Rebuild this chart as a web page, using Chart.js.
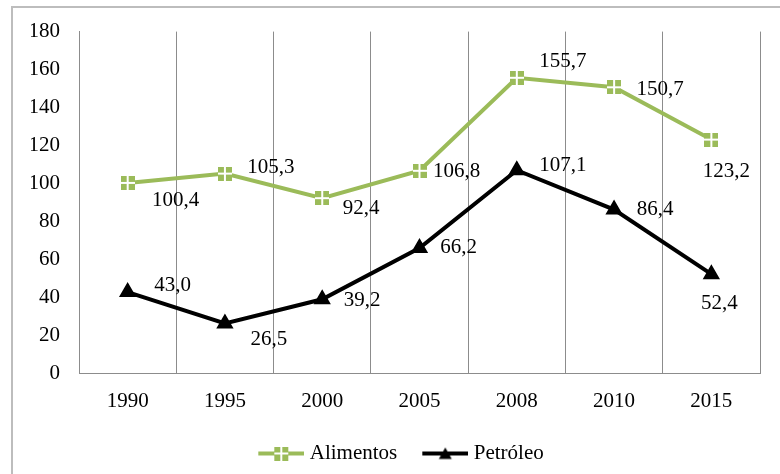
<!DOCTYPE html>
<html>
<head>
<meta charset="utf-8">
<script src="https://cdn.jsdelivr.net/npm/chart.js@4"></script>
<style>
  html, body { margin: 0; padding: 0; background: #fff; }
  #wrap { width: 780px; height: 474px; }
</style>
</head>
<body>
<div id="wrap"><canvas id="precos" width="780" height="474"></canvas></div>
<script>
const years = ['1990', '1995', '2000', '2005', '2008', '2010', '2015']
const alimentos = [100.4, 105.3, 92.4, 106.8, 155.7, 150.7, 123.2]
const petroleo = [43.0, 26.5, 39.2, 66.2, 107.1, 86.4, 52.4]
const yTicks = [0, 20, 40, 60, 80, 100, 120, 140, 160, 180]

// where each value label sits relative to its point (dx, dy)
const alimentosLabelPos = [[48, 18], [46, -6], [39, 10], [37, 1], [46, -16], [46, 2], [15, 32]]
const petroleoLabelPos = [[45, -7], [44, 16], [40, 1], [39, 0], [46, -5], [41, 0], [8, 29]]

const green = '#9bbb59'
const font = 'Liberation Serif'

// green square with white cross, like the excel marker
function squareMarker() {
    const c = document.createElement('canvas')
    c.width = 14; c.height = 14
    const g = c.getContext('2d')
    g.fillStyle = green
    g.fillRect(0, 0, 14, 14)
    g.fillStyle = '#fff'
    g.fillRect(6, 0, 2, 14)
    g.fillRect(0, 6, 14, 2)
    return c
}

// legend icon: line + marker at the right end of a wider transparent canvas
// (the blank left part only makes room between legend items)
function legendIcon(color, drawMarker) {
    const c = document.createElement('canvas')
    c.width = 62; c.height = 14
    const g = c.getContext('2d')
    g.translate(16, 0)
    g.strokeStyle = color
    g.lineWidth = 4
    g.beginPath(); g.moveTo(0, 7); g.lineTo(46, 7); g.stroke()
    drawMarker(g)
    return c
}

const sq = squareMarker()
const iconAlim = legendIcon(green, (g) => g.drawImage(sq, 16, 0))
const iconPetr = legendIcon('#000', (g) => {
    g.fillStyle = '#000'
    g.beginPath(); g.moveTo(23, 1); g.lineTo(29.5, 12.5); g.lineTo(16.5, 12.5); g.closePath(); g.fill()
})

const frame = {
    id: 'frame',
    beforeDraw(chart) {
        const ctx = chart.ctx
        ctx.save()
        ctx.fillStyle = '#fff'
        ctx.fillRect(0, 0, chart.width, chart.height)
        ctx.strokeStyle = '#bdbdbd'
        ctx.lineWidth = 2
        ctx.beginPath()
        ctx.moveTo(12, chart.height)
        ctx.lineTo(12, 7)
        ctx.lineTo(chart.width, 7)
        ctx.stroke()
        ctx.restore()
    }
}

const valueLabels = {
    id: 'valueLabels',
    afterDatasetsDraw(chart) {
        const ctx = chart.ctx
        const positions = [alimentosLabelPos, petroleoLabelPos]
        ctx.save()
        ctx.font = '21px "' + font + '"'
        ctx.fillStyle = '#000'
        ctx.textAlign = 'center'
        ctx.textBaseline = 'middle'
        chart.data.datasets.forEach((ds, d) => {
            chart.getDatasetMeta(d).data.forEach((pt, i) => {
                const txt = ds.data[i].toFixed(1).replace('.', ',')
                ctx.fillText(txt, pt.x + positions[d][i][0], pt.y + positions[d][i][1])
            })
        })
        ctx.restore()
    }
}

new Chart(document.getElementById('precos'), {
    type: 'line',
    data: {
        labels: years,
        datasets: [{
            label: 'Alimentos',
            data: alimentos,
            borderColor: green,
            backgroundColor: green,
            borderWidth: 4,
            tension: 0,
            pointStyle: sq,
            pointRadius: 7
        }, {
            label: 'Petróleo',
            data: petroleo,
            borderColor: '#000',
            backgroundColor: '#000',
            borderWidth: 4,
            tension: 0,
            pointStyle: 'triangle',
            pointRadius: 6
        }]
    },
    options: {
        responsive: false,
        animation: false,
        layout: { padding: { top: 31, right: 20, left: 31, bottom: 0 } },
        plugins: {
            tooltip: { enabled: false },
            legend: {
                position: 'bottom',
                labels: {
                    usePointStyle: true,
                    pointStyleWidth: 52,
                    padding: 14,
                    color: '#000',
                    font: { family: font, size: 21 },
                    generateLabels: (chart) => [
                        { text: 'Alimentos', pointStyle: iconAlim, fontColor: '#000', datasetIndex: 0, lineWidth: 0 },
                        { text: 'Petróleo', pointStyle: iconPetr, fontColor: '#000', datasetIndex: 1, lineWidth: 0 }
                    ]
                }
            }
        },
        scales: {
            x: {
                offset: true,
                grid: { offset: true, color: '#8c8c8c', lineWidth: 1, drawTicks: false },
                border: { display: true, color: '#8c8c8c', width: 1 },
                ticks: { color: '#000', font: { family: font, size: 21 }, padding: 15 }
            },
            y: {
                min: 0,
                max: 180,
                afterBuildTicks: (s) => { s.ticks = yTicks.map((v) => ({ value: v })) },
                afterFit: (s) => { s.width = 48 },
                grid: { display: false, drawTicks: false },
                border: { display: true, color: '#8c8c8c', width: 1 },
                ticks: { color: '#000', font: { family: font, size: 21 }, padding: 19 }
            }
        }
    },
    plugins: [frame, valueLabels]
})
</script>
</body>
</html>
